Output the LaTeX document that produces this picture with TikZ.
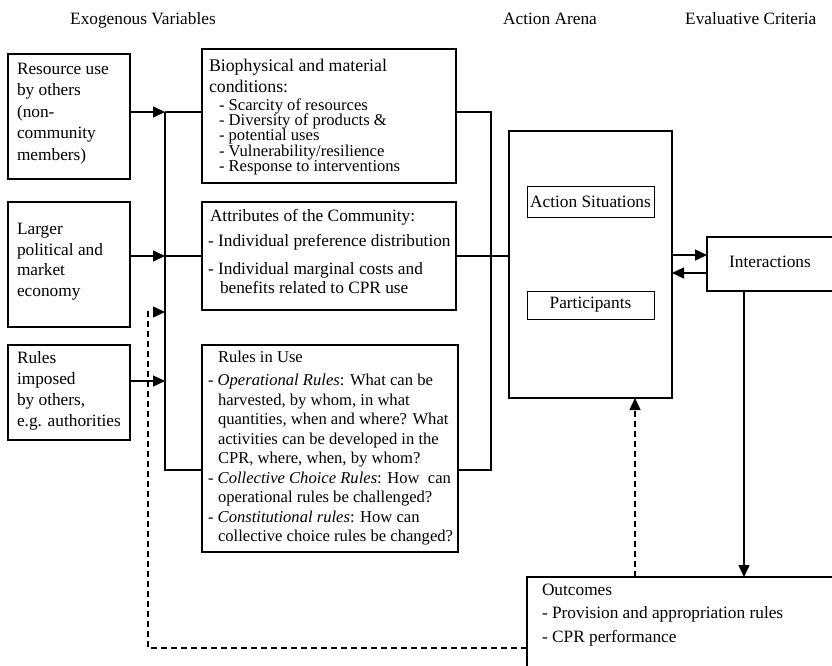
\documentclass[tikz,border=0pt]{standalone}
\usepackage{fontspec}
\setmainfont{Liberation Serif}
\usetikzlibrary{arrows.meta}
\tikzset{
  box/.style={draw, line width=1.4pt, rectangle, anchor=north west, outer sep=0pt, inner sep=0pt},
  ibox/.style={draw, line width=1pt, rectangle, outer sep=0pt, inner sep=0pt, font=\fontsize{17.3}{21}\selectfont},
  txt/.style={anchor=north west, inner sep=0pt, outer sep=0pt, align=left},
  fnt/.style={font=\fontsize{17.3}{#1}\selectfont},
  sfnt/.style={font=\fontsize{16.6}{#1}\selectfont},
  head/.style={anchor=base west, inner sep=0pt, font=\fontsize{17.3}{21}\selectfont},
  wire/.style={line width=1.4pt},
  arr/.style={line width=1.4pt, -{Triangle[length=12pt,width=11pt]}},
  dsh/.style={dash pattern=on 6pt off 4pt}}
\newcommand{\bighd}{\fontsize{17.8}{15.3}\selectfont}
\begin{document}
\lineskiplimit=-50pt
\lineskip=0pt
\begin{tikzpicture}[x=1pt,y=-1pt]
\useasboundingbox (0,0) rectangle (832,665);
\clip (0,0) rectangle (832,665);

% headers
\node[head] (h1) at (70,24) {Exogenous Variables};
\node[head] (h2) at (503,24) {Action Arena};
\node[head] (h3) at (685,24) {Evaluative Criteria};

% exogenous boxes
\node[box, minimum width=122pt, minimum height=125pt] (rb) at (8,54) {};
\node[txt, fnt=21.5] (rbt) at (17,63) {Resource use\\by others\\(non-\\community\\members)};
\node[box, minimum width=122pt, minimum height=125pt] (lp) at (8,202) {};
\node[txt, fnt=20.7] (lpt) at (17,223) {Larger\\political and\\market\\economy};
\node[box, minimum width=122pt, minimum height=95pt] (ri) at (8,345) {};
\node[txt, fnt=21.3] (rit) at (17,351) {Rules\\imposed\\by others,\\e.g. authorities};

% middle boxes
\node[box, minimum width=254pt, minimum height=134pt] (bio) at (202,49) {};
\node[txt, sfnt=15.3] (biot) at (209,59) {\bighd Biophysical and material\\[5.7pt]\bighd conditions:\\[2.7pt]
\hspace*{10pt}- Scarcity of resources\\
\hspace*{10pt}- Diversity of products \&\\
\hspace*{10pt}- potential uses\\
\hspace*{10pt}- Vulnerability/resilience\\
\hspace*{10pt}- Response to interventions};

\node[box, minimum width=254pt, minimum height=108pt] (attr) at (202,202) {};
\node[txt, fnt=19] (attrt) at (208,209) {\hspace*{2pt}Attributes of the Community:\\[6pt]
- Individual preference distribution\\[9pt]
- Individual marginal costs and\\
\hspace*{12pt}benefits related to CPR use};

\node[box, minimum width=256pt, minimum height=207pt] (riu) at (202,345) {};
\node[txt, sfnt=19.5] (riut) at (208,351) {\hspace*{10pt}Rules in Use\\[3.5pt]
- \textit{Operational Rules}: What can be\\
\hspace*{10pt}harvested, by whom, in what\\
\hspace*{10pt}quantities, when and where? What\\
\hspace*{10pt}activities can be developed in the\\
\hspace*{10pt}CPR, where, when, by whom?\\
- \textit{Collective Choice Rules}: How\ \ can\\
\hspace*{10pt}operational rules be challenged?\\
- \textit{Constitutional rules}: How can\\
\hspace*{10pt}collective choice rules be changed?};

% action arena
\node[box, minimum width=163pt, minimum height=267pt] (arena) at (509,131) {};
\node[ibox, minimum width=127pt, minimum height=31pt] (as) at (590.5,201.5) {Action Situations};
\node[ibox, minimum width=127pt, minimum height=28pt] (part) at (590.5,305) {Participants};

% evaluative
\node[box, minimum width=127pt, minimum height=54pt] (inter) at (707,237) {};
\node[inner sep=0pt, font=\fontsize{17.3}{21}\selectfont] (intert) at (770,262) {Interactions};

\node[box, minimum width=320pt, minimum height=110pt] (out) at (527,577) {};
\node[txt, fnt=23.5] (outt) at (542,584) {Outcomes\\- Provision and appropriation rules\\- CPR performance};

% collector coordinates
\coordinate (L1) at (165,112);
\coordinate (L2) at (165,256);
\coordinate (Ld) at (165,312);
\coordinate (L3) at (165,381);
\coordinate (L4) at (165,470);
\coordinate (R1) at (491,112);
\coordinate (R2) at (491,256);
\coordinate (R4) at (491,470);
\coordinate (iox) at (744,0);
\coordinate (oax) at (635,0);
\coordinate (fb1) at (148,648);
\coordinate (fb2) at (148,312);

% left connectors
\draw[arr] (rb.east |- L1) -- (L1);
\draw[arr] (lp.east |- L2) -- (L2);
\draw[arr] (ri.east |- L3) -- (L3);
\draw[wire] (L1) -- (bio.west |- L1);
\draw[wire] (L2) -- (attr.west |- L2);
\draw[wire] (L1) -- (L4) -- (riu.west |- L4);

% right connectors
\draw[wire] (bio.east |- R1) -- (R1) -- (R4) -- (riu.east |- R4);
\draw[wire] (attr.east |- R2) -- (R2) -- (arena.west |- R2);

% arena <-> interactions
\draw[arr] ([yshift=9pt]arena.east |- inter.west) -- ([yshift=9pt]inter.west);
\draw[arr] ([yshift=-9pt]inter.west) -- ([yshift=-9pt]arena.east |- inter.west);

% interactions -> outcomes
\draw[arr] (inter.south -| iox) -- (out.north -| iox);
% outcomes -> arena (dashed)
\draw[arr, dsh] (out.north -| oax) -- (arena.south -| oax);
% feedback dashed
\draw[arr, dsh] (out.west |- fb1) -- (fb1) -- (fb2) -- (Ld);
\end{tikzpicture}
\end{document}
